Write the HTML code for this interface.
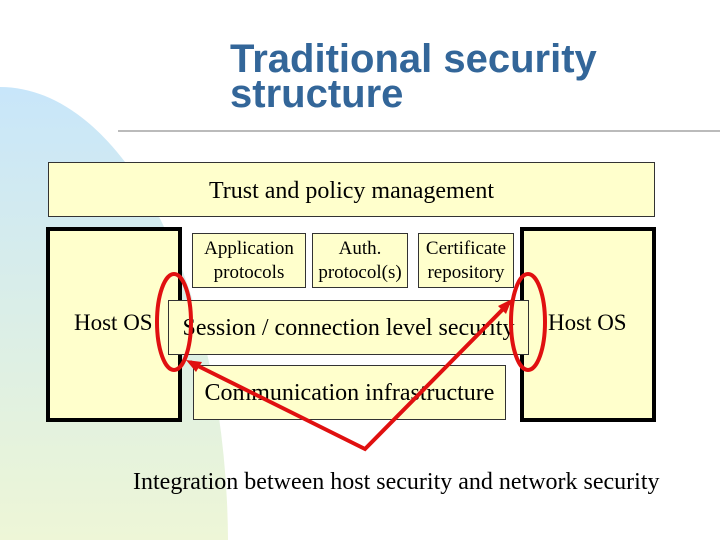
<!DOCTYPE html>
<html><head><style>
html,body{margin:0;width:720px;height:540px;overflow:hidden}
body{background:#fff;position:relative;font-family:"Liberation Serif",serif}
.b{position:absolute;background:#ffffcc;border:1px solid #333;box-sizing:border-box;display:flex;align-items:center;justify-content:center;text-align:center;color:#000;white-space:nowrap}
</style></head><body>
<svg width="720" height="540" style="position:absolute;left:0;top:0">
<defs><linearGradient id="g" x1="0" y1="0" x2="0" y2="1"><stop offset="0" stop-color="#c8e6fa"/><stop offset="0.4" stop-color="#e6f3dc"/><stop offset="0.7" stop-color="#fffccc"/></linearGradient></defs>
<ellipse cx="0" cy="545" rx="228" ry="458" fill="url(#g)"/>
<line x1="118" y1="131" x2="720" y2="131" stroke="#bbb" stroke-width="2"/>
</svg>
<div style="position:absolute;left:230px;top:42px;font:bold 40px/35px 'Liberation Sans',sans-serif;color:#336699;white-space:nowrap">Traditional security<br>structure</div>
<div class="b" style="left:48px;top:162px;width:607px;height:55px;font-size:24px;padding-top:3px">Trust and policy management</div>
<div class="b" style="left:46px;top:227px;width:136px;height:195px;border:4px solid #000;justify-content:flex-start;padding-left:24px;font-size:23px;padding-bottom:4px">Host OS</div>
<div class="b" style="left:520px;top:227px;width:136px;height:195px;border:4px solid #000;justify-content:flex-start;padding-left:24px;font-size:23px;padding-bottom:4px">Host OS</div>
<div class="b" style="left:192px;top:233px;width:114px;height:55px;font-size:19px;line-height:24px">Application<br>protocols</div>
<div class="b" style="left:312px;top:233px;width:96px;height:55px;font-size:19px;line-height:24px">Auth.<br>protocol(s)</div>
<div class="b" style="left:418px;top:233px;width:96px;height:55px;font-size:19px;line-height:24px">Certificate<br>repository</div>
<div class="b" style="left:168px;top:300px;width:361px;height:55px;font-size:24px;padding-top:2px">Session / connection level security</div>
<div class="b" style="left:193px;top:365px;width:313px;height:55px;font-size:24px;padding-top:2px">Communication infrastructure</div>
<svg width="720" height="540" style="position:absolute;left:0;top:0">
<g stroke="#e01010" stroke-width="4" fill="none">
<ellipse cx="174" cy="322" rx="17" ry="48"/>
<ellipse cx="528" cy="322" rx="17" ry="48"/>
<polyline points="190,362 365,449 510,302"/>
</g>
<polygon points="186,360 202,362 196,372" fill="#e01010"/>
<polygon points="512,299 506,314 498,306" fill="#e01010"/>
</svg>
<div style="position:absolute;left:133px;top:469px;font-size:24px;white-space:nowrap">Integration between host security and network security</div>
</body></html>
